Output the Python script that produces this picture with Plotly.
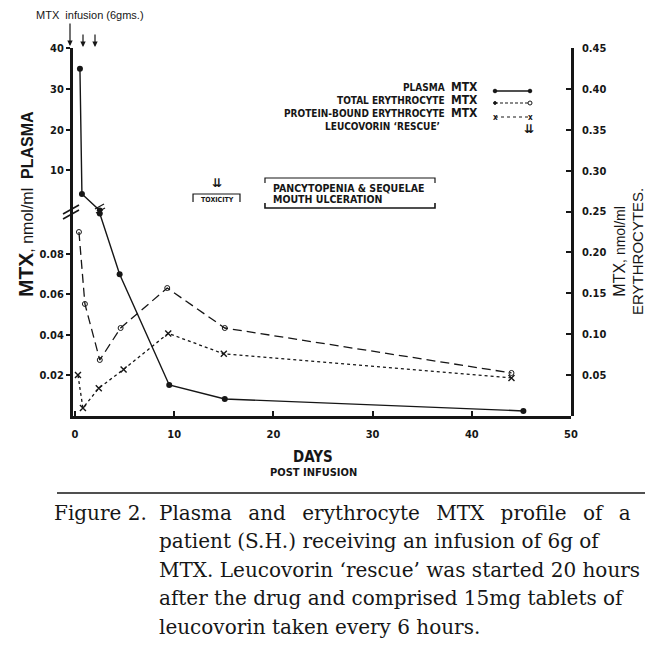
import plotly.graph_objects as go

# values
days_plasma = [0.5, 0.7, 2.5, 4.5, 9.5, 15.1, 45.2]
plasma_mtx = [35.0, 4.2, 0.1, 0.07, 0.0153, 0.0084, 0.0025]

days_total = [0.4, 1.0, 2.5, 4.6, 9.3, 15.1, 44.0]
total_ery_mtx = [0.225, 0.137, 0.0685, 0.1076, 0.1565, 0.1076, 0.0526]

days_bound = [0.3, 0.8, 2.4, 4.9, 9.4, 15.0, 44.0]
bound_ery_mtx = [0.050, 0.0098, 0.034, 0.057, 0.101, 0.076, 0.0465]

x_ticks = [0, 10, 20, 30, 40, 50]
plasma_low_ticks = [0.02, 0.04, 0.06, 0.08]
plasma_high_ticks = [10, 20, 30, 40]
ery_ticks = [0.05, 0.10, 0.15, 0.20, 0.25, 0.30, 0.35, 0.40, 0.45]

BREAK = 0.1  # plasma axis is broken at 0.1 nmol/ml

INK = "#161616"
SANS = "Liberation Sans Narrow, DejaVu Sans Condensed, Liberation Sans, Arial"
SERIF = "DejaVu Serif, Liberation Serif, serif"
WIDE_GAP = "\u2002 "

# plot area in pixels
L, T, W, H = 73, 48, 498, 368
SPLIT = 205 / H  # where the lower plasma panel ends


def px(x):
    return (x - L) / W


def py(y):
    return (T + H - y) / H


def note(x, y, text, size=10, xanchor="center", bold=True, family=SANS, angle=0):
    return dict(
        x=px(x), y=py(y), xref="paper", yref="paper", text=text,
        showarrow=False, xanchor=xanchor, yanchor="middle", textangle=angle,
        font=dict(family=family, size=size, color=INK,
                  weight="bold" if bold else "normal"),
    )


def seg(x0, y0, x1, y1, width=1.3, dash="solid"):
    return dict(type="line", xref="paper", yref="paper",
                x0=px(x0), y0=py(y0), x1=px(x1), y1=py(y1),
                line=dict(color=INK, width=width, dash=dash))


def path(points, width=1.2):
    d = "M " + " L ".join(f"{px(a):.4f},{py(b):.4f}" for a, b in points)
    return dict(type="path", xref="paper", yref="paper", path=d,
                line=dict(color=INK, width=width))


def dot(x, y, r=2.5, filled=True):
    return dict(type="circle", xref="paper", yref="paper",
                xsizemode="pixel", ysizemode="pixel",
                xanchor=px(x), yanchor=py(y), x0=-r, x1=r, y0=-r, y1=r,
                fillcolor=INK if filled else "white",
                line=dict(color=INK, width=1))


upper = [v >= BREAK for v in plasma_mtx]
lower = [v <= BREAK for v in plasma_mtx]

fig = go.Figure()

plasma_style = dict(mode="lines+markers", line=dict(color=INK, width=1.4),
                    marker=dict(symbol="circle", size=6, color=INK),
                    showlegend=False, hoverinfo="skip")
fig.add_trace(go.Scatter(
    x=[d for d, k in zip(days_plasma, upper) if k],
    y=[v for v, k in zip(plasma_mtx, upper) if k],
    xaxis="x", yaxis="y2", **plasma_style))
fig.add_trace(go.Scatter(
    x=[d for d, k in zip(days_plasma, lower) if k],
    y=[v for v, k in zip(plasma_mtx, lower) if k],
    xaxis="x", yaxis="y", **plasma_style))

fig.add_trace(go.Scatter(
    x=days_total, y=total_ery_mtx, xaxis="x", yaxis="y3",
    mode="lines+markers", line=dict(color=INK, width=1.3, dash="9px,5px"),
    marker=dict(symbol="circle-open", size=5, color=INK, line=dict(width=1)),
    showlegend=False, hoverinfo="skip"))

fig.add_trace(go.Scatter(
    x=days_bound, y=bound_ery_mtx, xaxis="x", yaxis="y3",
    mode="lines+markers", line=dict(color=INK, width=1.3, dash="dot"),
    marker=dict(symbol="x-thin", size=6, color=INK, line=dict(width=1.4, color=INK)),
    showlegend=False, hoverinfo="skip"))

tick_font = dict(family=SANS, size=11, color=INK, weight="bold")
axis_common = dict(showgrid=False, zeroline=False, showline=True,
                   linecolor=INK, tickcolor=INK, tickfont=tick_font)

annotations = [
    # axis titles
    note(25, 204, "<span style='font-size:21px'><b>MTX</b></span>, nmol/ml  <b>PLASMA</b>",
         size=16, bold=False, family="Liberation Sans, Arial", angle=-90),
    note(628, 252, "<span style='font-size:16px'>MTX</span>, nmol/ml<br>"
                   "<span style='font-size:15px'>ERYTHROCYTES.</span>",
         size=14, bold=False, family="Liberation Sans, Arial", angle=-90),
    note(313, 457, "DAYS", size=15),
    note(313, 472, "POST INFUSION", size=11),
    # legend
    note(480, 87, "PLASMA  <span style='font-size:12px'>MTX</span>", size=10, xanchor="right"),
    note(480, 100, "TOTAL ERYTHROCYTE  <span style='font-size:12px'>MTX</span>", size=10, xanchor="right"),
    note(480, 113, "PROTEIN-BOUND ERYTHROCYTE  <span style='font-size:12px'>MTX</span>", size=10, xanchor="right"),
    note(442, 126, "LEUCOVORIN ‘RESCUE’", size=10, xanchor="right"),
    note(529, 129, "⇊", size=12, family="DejaVu Sans"),
    # event labels
    note(217, 183, "⇊", size=12, family="DejaVu Sans"),
    note(217, 200, "TOXICITY", size=7),
    note(271, 188, "PANCYTOPENIA &amp; SEQUELAE", size=10.5, xanchor="left"),
    note(271, 199, "MOUTH ULCERATION", size=10.5, xanchor="left"),
    note(90, 15, "MTX  infusion (6gms.)", size=11, bold=False, family="Liberation Sans, Arial"),
    # caption
    note(52, 513, "Figure 2.", size=20, xanchor="left", bold=False, family=SERIF),
    note(157, 513, WIDE_GAP.join(["Plasma", "and", "erythrocyte", "MTX", "profile", "of", "a"]),
         size=20, xanchor="left", bold=False, family=SERIF),
    note(157, 541, "patient (S.H.) receiving an infusion of 6g of",
         size=20, xanchor="left", bold=False, family=SERIF),
    note(157, 570, "MTX. Leucovorin ‘rescue’ was started 20 hours",
         size=20, xanchor="left", bold=False, family=SERIF),
    note(157, 598, "after the drug and comprised 15mg tablets of",
         size=20, xanchor="left", bold=False, family=SERIF),
    note(157, 627, "leucovorin taken every 6 hours.",
         size=20, xanchor="left", bold=False, family=SERIF),
]

# arrows marking the infusion and the leucovorin doses
for ax_x, head, tail in [(70, 46, 22), (83, 47, 33), (95, 47, 33)]:
    annotations.append(dict(
        x=px(ax_x), y=py(head), xref="paper", yref="paper", text="",
        showarrow=True, ax=0, ay=-(head - tail), arrowhead=2, arrowsize=0.9,
        arrowwidth=1.2, arrowcolor=INK))

shapes = [
    # break marks on the plasma axis and on the plasma curve
    seg(63, 214, 79, 205, width=1.6),
    seg(63, 219, 79, 210, width=1.6),
    seg(95, 209, 104, 204, width=1.2),
    seg(96, 213, 105, 208, width=1.2),
    # legend samples
    seg(495, 91, 530, 91, width=1.3),
    dot(495, 91, 1.8), dot(530, 91, 1.8),
    seg(495, 103, 530, 103, width=1.2, dash="3px,2px"),
    dot(495, 103, 1.4), dot(530, 103, 2, filled=False),
    seg(495, 117, 530, 117, width=1.2, dash="dot"),
    # toxicity brackets
    path([(193, 202), (193, 194), (240, 194), (240, 202)]),
    path([(265, 183), (265, 178), (435, 178), (435, 183)]),
    path([(265, 203), (265, 208), (435, 208), (435, 203)], width=1.6),
    # rule above the caption
    seg(57, 493, 645, 493, width=1.6),
]
annotations += [note(495, 117, "x", size=8), note(530, 117, "x", size=8)]

fig.update_layout(
    width=650, height=647,
    margin=dict(l=L, r=650 - L - W, t=T, b=647 - T - H),
    paper_bgcolor="white", plot_bgcolor="rgba(0,0,0,0)",
    xaxis=dict(domain=[0, 1], range=[-0.2, 50], anchor="y", tickvals=x_ticks,
               ticks="inside", ticklen=5, tickwidth=1.5, linewidth=3,
               ticklabelstandoff=6, **axis_common),
    yaxis=dict(domain=[0, SPLIT], range=[0, 0.1012], anchor="x",
               tickvals=plasma_low_ticks, ticktext=[f"{v:.2f}" for v in plasma_low_ticks],
               ticks="outside", ticklen=4, tickwidth=1.5, linewidth=3, **axis_common),
    yaxis2=dict(domain=[SPLIT, 1], range=[0, 40.1], anchor="x",
                tickvals=plasma_high_ticks, ticks="outside", ticklen=4,
                tickwidth=1.5, linewidth=3, **axis_common),
    yaxis3=dict(domain=[0, 1], range=[0, 0.45], anchor="x", side="right",
                tickvals=ery_ticks, ticktext=[f"{v:.2f}" for v in ery_ticks],
                ticks="inside", ticklen=5, tickwidth=1.5, linewidth=2.5,
                ticklabelstandoff=6, **axis_common),
    annotations=annotations,
    shapes=shapes,
)

# the page's default body margin would shift the figure by 8px
fig.write_html("out.html", config={"displayModeBar": False},
               post_script="document.body.style.margin='0';")
